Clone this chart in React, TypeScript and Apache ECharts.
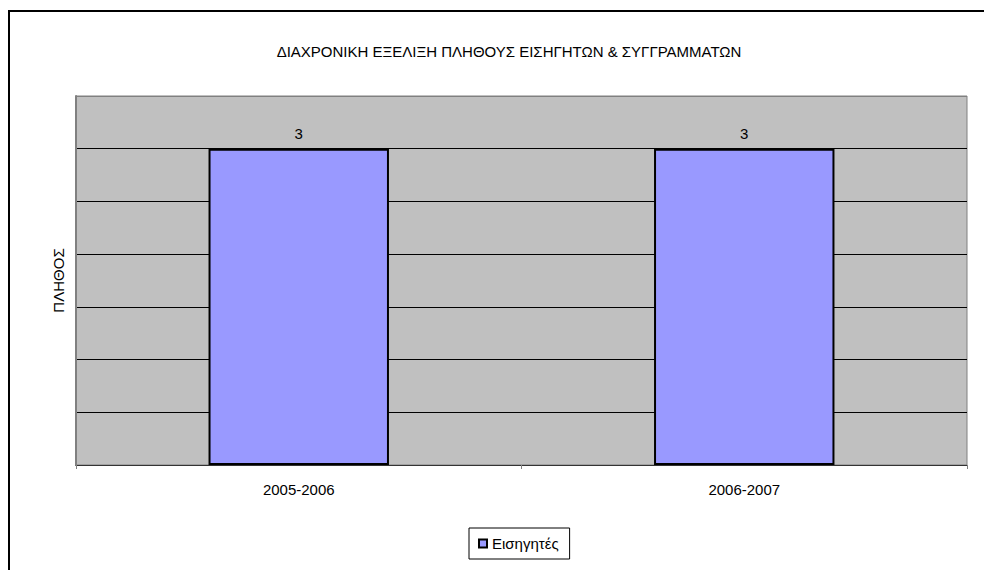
import React, { useEffect, useRef } from "react";
import * as echarts from "echarts";

const titleText = "ΔΙΑΧΡΟΝΙΚΗ ΕΞΕΛΙΞΗ ΠΛΗΘΟΥΣ ΕΙΣΗΓΗΤΩΝ & ΣΥΓΓΡΑΜΜΑΤΩΝ";
const categories = ["2005-2006", "2006-2007"];
const seriesName = "Εισηγητές";
const seriesValues = [3, 3];
const yAxisName = "ΠΛΗΘΟΣ";
const yMin = 0;
const yMax = 3.5;
const yInterval = 0.5;

const FONT = "Arial, 'Liberation Sans', sans-serif";
const FS = 15;

export default function App() {
  const ref = useRef<HTMLDivElement>(null);
  useEffect(() => {
    document.body.style.margin = "0";
    const chart = echarts.init(ref.current!, undefined, { renderer: "svg" });
    const lineCount = Math.round((yMax - yMin) / yInterval) + 1;
    const splitColors: string[] = [];
    for (let i = 0; i < lineCount; i++) splitColors.push(i === lineCount - 1 ? "#808080" : "#000000");
    chart.setOption({
      animation: false,
      backgroundColor: "#ffffff",
      textStyle: { fontFamily: FONT },
      title: {
        text: titleText,
        left: 504,
        textAlign: "center",
        top: 39,
        textStyle: { fontSize: FS, fontWeight: "normal", color: "#000", fontFamily: FONT },
      },
      graphic: [
        {
          type: "rect",
          shape: { x: 9, y: 11, width: 1100, height: 700 },
          style: { fill: "none", stroke: "#000", lineWidth: 2 },
          z: 100,
        },
      ],
      grid: {
        left: 76,
        top: 96,
        right: 17,
        bottom: 105,
        show: true,
        backgroundColor: "#C0C0C0",
        borderColor: "#808080",
        borderWidth: 1,
      },
      legend: {
        data: [seriesName],
        top: 528,
        left: 469,
        icon: "rect",
        itemWidth: 8,
        itemHeight: 8,
        itemGap: 6,
        borderColor: "#000",
        borderWidth: 1,
        padding: [8, 11, 8, 9],
        backgroundColor: "#fff",
        textStyle: { fontSize: FS, color: "#000", fontFamily: FONT },
        itemStyle: { borderColor: "#000", borderWidth: 2 },
      },
      xAxis: {
        type: "category",
        data: categories,
        axisLine: { show: true, lineStyle: { color: "#333", width: 1 } },
        axisTick: { show: true, length: 4, lineStyle: { color: "#808080" } },
        axisLabel: { fontSize: FS, color: "#000", margin: 17, fontFamily: FONT },
        splitLine: { show: false },
      },
      yAxis: {
        type: "value",
        min: yMin,
        max: yMax,
        interval: yInterval,
        name: yAxisName,
        nameLocation: "middle",
        nameRotate: 90,
        nameGap: 10,
        nameTextStyle: { fontSize: FS, color: "#000", fontFamily: FONT },
        axisLine: { show: true, lineStyle: { color: "#808080", width: 2 } },
        axisTick: { show: false },
        axisLabel: { show: false },
        splitLine: { show: true, lineStyle: { color: splitColors, width: 1 } },
      },
      series: [
        {
          name: seriesName,
          type: "bar",
          data: seriesValues,
          barWidth: "40.5%",
          itemStyle: { color: "#9999FF", borderColor: "#000", borderWidth: 2 },
          label: {
            show: true,
            position: "top",
            distance: 8,
            fontSize: FS,
            color: "#000",
            fontFamily: FONT,
          },
        },
      ],
    });
    return () => chart.dispose();
  }, []);
  return (
    <div
      ref={ref}
      style={{ position: "fixed", left: 0, top: 0, width: 984, height: 570 }}
    />
  );
}
